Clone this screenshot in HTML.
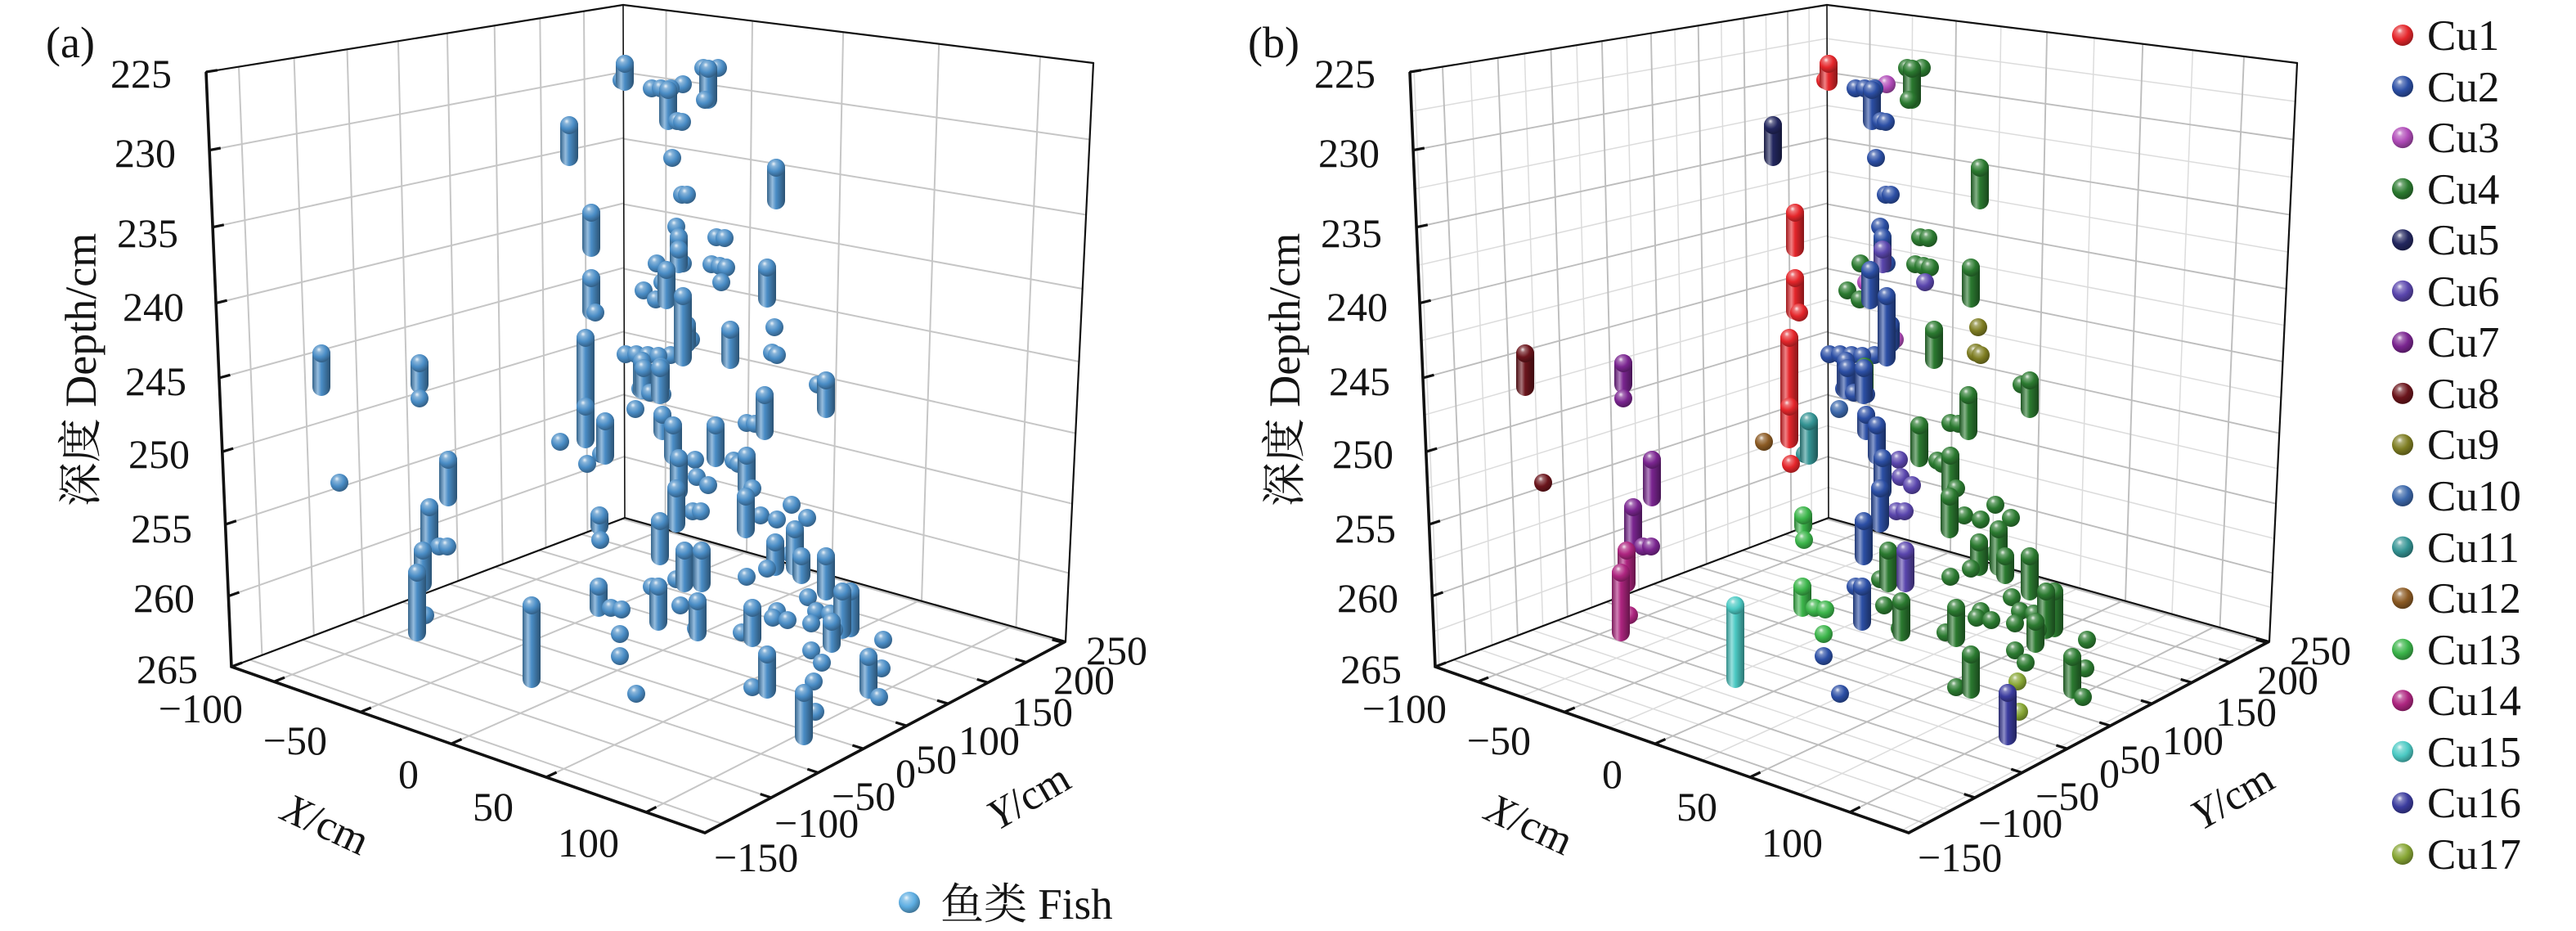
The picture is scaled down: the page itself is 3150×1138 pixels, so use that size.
<!DOCTYPE html>
<html><head><meta charset="utf-8"><style>
html,body{margin:0;padding:0;background:#fff;}
svg{display:block;}
text{font-family:"Liberation Serif","Noto Serif CJK SC",serif;fill:#141414;}
</style></head><body>
<svg id="s" xmlns="http://www.w3.org/2000/svg" width="3150" height="1138" viewBox="0 0 3150 1138">
<defs id="defs"></defs>
<rect width="3150" height="1138" fill="#fff"/>

<g id="PA">
 <g class="grid"></g>
 <g class="box" stroke="#111" fill="none" stroke-linecap="round">
  <line x1="252" y1="88" x2="762" y2="6" stroke-width="2.2"/>
  <line x1="762" y1="6" x2="1337" y2="77" stroke-width="2.2"/>
  <line x1="762" y1="6" x2="764" y2="633" stroke-width="1.6"/>
  <line x1="1337" y1="77" x2="1303" y2="784" stroke-width="2.2"/>
  <line x1="283" y1="815" x2="764" y2="633" stroke-width="2.2"/>
  <line x1="764" y1="633" x2="1303" y2="784" stroke-width="2.2"/>
 </g>
 <g class="pts"></g>
 <polyline points="252,88 283,815 862,1018 1303,784" fill="none" stroke="#111" stroke-width="3.6" stroke-linejoin="miter"/>
 <g class="ticks"></g>
 <g class="lab">
  <g font-size="50">
   <text x="210" y="107" text-anchor="end">225</text>
   <text x="215" y="204" text-anchor="end">230</text>
   <text x="218" y="302" text-anchor="end">235</text>
   <text x="225" y="392" text-anchor="end">240</text>
   <text x="228" y="483" text-anchor="end">245</text>
   <text x="232" y="572" text-anchor="end">250</text>
   <text x="235" y="663" text-anchor="end">255</text>
   <text x="238" y="748" text-anchor="end">260</text>
   <text x="242" y="835" text-anchor="end">265</text>
   <text x="297" y="883" text-anchor="end">−100</text>
   <text x="400" y="922" text-anchor="end">−50</text>
   <text x="512" y="963" text-anchor="end">0</text>
   <text x="628" y="1003" text-anchor="end">50</text>
   <text x="757" y="1047" text-anchor="end">100</text>
   <text x="873" y="1065">−150</text>
   <text x="947" y="1023">−100</text>
   <text x="1017" y="990">−50</text>
   <text x="1095" y="962">0</text>
   <text x="1120" y="945">50</text>
   <text x="1172" y="922">100</text>
   <text x="1237" y="887">150</text>
   <text x="1288" y="848">200</text>
   <text x="1328" y="812">250</text>
  </g>
  <text transform="translate(117,452) rotate(-90)" text-anchor="middle" font-size="54">深度 Depth/cm</text>
  <text transform="translate(398,1008) rotate(25)" text-anchor="middle" dominant-baseline="central" font-size="52"><tspan font-style="italic">X</tspan>/cm</text>
  <text transform="translate(1258,974) rotate(-30)" text-anchor="middle" dominant-baseline="central" font-size="52"><tspan font-style="italic">Y</tspan>/cm</text>
 </g>
</g>

<g id="PB" transform="translate(1472,0)">
 <g class="grid"></g>
 <g class="box" stroke="#111" fill="none" stroke-linecap="round">
  <line x1="252" y1="88" x2="762" y2="6" stroke-width="2.2"/>
  <line x1="762" y1="6" x2="1337" y2="77" stroke-width="2.2"/>
  <line x1="762" y1="6" x2="764" y2="633" stroke-width="1.6"/>
  <line x1="1337" y1="77" x2="1303" y2="784" stroke-width="2.2"/>
  <line x1="283" y1="815" x2="764" y2="633" stroke-width="2.2"/>
  <line x1="764" y1="633" x2="1303" y2="784" stroke-width="2.2"/>
 </g>
 <g class="pts"></g>
 <polyline points="252,88 283,815 862,1018 1303,784" fill="none" stroke="#111" stroke-width="3.6" stroke-linejoin="miter"/>
 <g class="ticks"></g>
 <g class="lab">
  <g font-size="50">
   <text x="210" y="107" text-anchor="end">225</text>
   <text x="215" y="204" text-anchor="end">230</text>
   <text x="218" y="302" text-anchor="end">235</text>
   <text x="225" y="392" text-anchor="end">240</text>
   <text x="228" y="483" text-anchor="end">245</text>
   <text x="232" y="572" text-anchor="end">250</text>
   <text x="235" y="663" text-anchor="end">255</text>
   <text x="238" y="748" text-anchor="end">260</text>
   <text x="242" y="835" text-anchor="end">265</text>
   <text x="297" y="883" text-anchor="end">−100</text>
   <text x="400" y="922" text-anchor="end">−50</text>
   <text x="512" y="963" text-anchor="end">0</text>
   <text x="628" y="1003" text-anchor="end">50</text>
   <text x="757" y="1047" text-anchor="end">100</text>
   <text x="873" y="1065">−150</text>
   <text x="947" y="1023">−100</text>
   <text x="1017" y="990">−50</text>
   <text x="1095" y="962">0</text>
   <text x="1120" y="945">50</text>
   <text x="1172" y="922">100</text>
   <text x="1237" y="887">150</text>
   <text x="1288" y="848">200</text>
   <text x="1328" y="812">250</text>
  </g>
  <text transform="translate(117,452) rotate(-90)" text-anchor="middle" font-size="54">深度 Depth/cm</text>
  <text transform="translate(398,1008) rotate(25)" text-anchor="middle" dominant-baseline="central" font-size="52"><tspan font-style="italic">X</tspan>/cm</text>
  <text transform="translate(1258,974) rotate(-30)" text-anchor="middle" dominant-baseline="central" font-size="52"><tspan font-style="italic">Y</tspan>/cm</text>
 </g>
</g>

<text x="56" y="70" font-size="54">(a)</text>
<text x="1526" y="70" font-size="54">(b)</text>

<circle cx="1112" cy="1103" r="13" fill="url(#rgfishL) #5eaee2"/>
<text x="1150" y="1123" font-size="53">鱼类 Fish</text>

<g id="legB" font-size="53">
 <text x="2968" y="61">Cu1</text>
 <text x="2968" y="124">Cu2</text>
 <text x="2968" y="186">Cu3</text>
 <text x="2968" y="249">Cu4</text>
 <text x="2968" y="311">Cu5</text>
 <text x="2968" y="374">Cu6</text>
 <text x="2968" y="436">Cu7</text>
 <text x="2968" y="499">Cu8</text>
 <text x="2968" y="561">Cu9</text>
 <text x="2968" y="624">Cu10</text>
 <text x="2968" y="687">Cu11</text>
 <text x="2968" y="749">Cu12</text>
 <text x="2968" y="812">Cu13</text>
 <text x="2968" y="874">Cu14</text>
 <text x="2968" y="937">Cu15</text>
 <text x="2968" y="999">Cu16</text>
 <text x="2968" y="1062">Cu17</text>
</g>
<g id="legBalls"></g>
</svg>
<script>
(function(){
const NS='http://www.w3.org/2000/svg';
function el(tag,a,p){const e=document.createElementNS(NS,tag);for(const k in a)e.setAttribute(k,a[k]);if(p)p.appendChild(e);return e;}
function homog(P){
  const x0=P[0][0],y0=P[0][1],x1=P[1][0],y1=P[1][1],x2=P[2][0],y2=P[2][1],x3=P[3][0],y3=P[3][1];
  const dx1=x1-x2,dx2=x3-x2,dx3=x0-x1+x2-x3,dy1=y1-y2,dy2=y3-y2,dy3=y0-y1+y2-y3;
  const den=dx1*dy2-dx2*dy1;
  const g=(dx3*dy2-dx2*dy3)/den,h=(dx1*dy3-dx3*dy1)/den;
  const a=x1-x0+g*x1,b=x3-x0+h*x3,c=x0,d=y1-y0+g*y1,e=y3-y0+h*y3,f=y0;
  return function(u,v){const w=g*u+h*v+1;return [(a*u+b*v+c)/w,(d*u+e*v+f)/w];};
}
function solve(fn,target){let lo=-0.5,hi=1.5;const inc=fn(1)>fn(0);for(let i=0;i<70;i++){const m=(lo+hi)/2;if((fn(m)<target)===inc)lo=m;else hi=m;}return (lo+hi)/2;}
function fit(fn,A,xa,B,xb){const ta=solve(fn,xa),tb=solve(fn,xb);return function(v){return ta+(v-A)*(tb-ta)/(B-A);};}
const L=homog([[252,88],[762,6],[764,633],[283,815]]);
const R=homog([[762,6],[1337,77],[1303,784],[764,633]]);
const F=homog([[283,815],[862,1018],[1303,784],[764,633]]);
const fLY=fit(t=>L(t,0)[0],-150,292,200,714);
const fRX=fit(t=>R(t,0)[0],-50,920,100,1272);
const fFX=fit(t=>F(t,0)[0],-100,335,100,790);
const fFY=fit(s=>F(1,s)[0],-100,943,200,1255);
const fZ=z=>(z-225)/40;
function ln(g,p,q,st,w){el('line',{x1:p[0].toFixed(1),y1:p[1].toFixed(1),x2:q[0].toFixed(1),y2:q[1].toFixed(1),stroke:st,'stroke-width':w},g);}
function range(a,b,s){const r=[];for(let v=a;v<=b+1e-9;v+=s)r.push(+v.toFixed(3));return r;}
function grid(g,vals,st,w){
  const ok=t=>t>0.006&&t<0.994;
  vals.y.forEach(Y=>{const t=fLY(Y);if(ok(t))ln(g,L(t,0),L(t,1),st,w);const s=fFY(Y);if(ok(s))ln(g,F(0,s),F(1,s),st,w);});
  vals.x.forEach(X=>{const t=fRX(X);if(ok(t))ln(g,R(t,0),R(t,1),st,w);const u=fFX(X);if(ok(u))ln(g,F(u,0),F(u,1),st,w);});
  vals.z.forEach(Z=>{const v=fZ(Z);if(ok(v)){ln(g,L(0,v),L(1,v),st,w);ln(g,R(0,v),R(1,v),st,w);}});
}
function tick(g,p,q,len){const dx=q[0]-p[0],dy=q[1]-p[1],d=Math.hypot(dx,dy);ln(g,p,[p[0]+dx/d*len,p[1]+dy/d*len],'#111',3.2);}
function ticks(g){
  range(225,265,5).forEach(Z=>{const v=fZ(Z);tick(g,L(0,v),L(0.05,v),14);});
  range(-100,100,50).forEach(X=>{const u=fFX(X);tick(g,F(u,0),F(u,0.05),14);});
  range(-100,250,50).forEach(Y=>{const s=fFY(Y);tick(g,F(1,s),F(0.95,s),14);});
}
const major={x:range(-100,100,50),y:range(-150,250,50),z:range(225,265,5)};
const minor={x:range(-125,125,50),y:range(-175,250,50),z:range(227.5,265,5)};
const gA=document.querySelector('#PA .grid'),gB=document.querySelector('#PB .grid');
grid(gA,major,'#c6c6c6',2);
grid(gB,minor,'#dcdcdc',1.5);
grid(gB,major,'#bdbdbd',1.9);
ticks(document.querySelector('#PA .ticks'));
ticks(document.querySelector('#PB .ticks'));

const defs=document.getElementById('defs');
function h2r(h){return [parseInt(h.slice(1,3),16),parseInt(h.slice(3,5),16),parseInt(h.slice(5,7),16)];}
function mix(c,t,k){return 'rgb('+c.map((v,i)=>Math.round(v+(t[i]-v)*k)).join(',')+')';}
const W=[255,255,255],K=[0,0,0];
function grads(id,hex){
  const c=h2r(hex);
  const rg=el('radialGradient',{id:'rg'+id,cx:'0.4',cy:'0.36',r:'0.7',fx:'0.36',fy:'0.28'},defs);
  [[0,mix(c,W,0.9)],[0.2,mix(c,W,0.35)],[0.55,hex],[1,mix(c,K,0.38)]].forEach(s=>el('stop',{offset:s[0],'stop-color':s[1]},rg));
  const lg=el('linearGradient',{id:'lg'+id,x1:'0',y1:'0',x2:'1',y2:'0'},defs);
  [[0,mix(c,K,0.3)],[0.3,mix(c,W,0.42)],[0.5,hex],[1,mix(c,K,0.42)]].forEach(s=>el('stop',{offset:s[0],'stop-color':s[1]},lg));
}
const PAL=['#e5262b','#2c4fa5','#b04bb8','#2b7a30','#23275f','#5a46ad','#7a2590','#6b151c','#7e7d22','#3c68ab','#349494','#8b5a23','#3bb54a','#ae2580','#4ccac4','#3b3c9e','#87a634'];
PAL.forEach((h,i)=>grads('c'+i,h));
grads('fish','#4a8dc6');
grads('fishL','#5eaee2');

const items=[
[764,78,100,0],[760,98,98,0],
[797,108,108,1],[808,108,108,1],[820,108,108,1],[835,103,103,2],
[817,110,148,1],[828,148,148,1],[834,149,149,1],
[866,84,122,3],[860,83,83,3],[878,83,83,3],[862,122,122,3],
[696,153,192,4],
[822,193,193,1],
[949,205,245,3],
[834,238,238,1],[840,238,238,1],
[723,260,303,0],
[827,277,277,1],[830,290,305,1],[830,305,323,5],[835,322,322,1],
[876,290,290,3],[886,291,291,3],
[803,322,322,3],
[870,323,323,3],[880,325,325,3],[888,327,327,3],[882,345,345,5],
[938,327,365,3],
[815,330,367,1],[810,345,345,2],[787,355,355,3],[802,366,366,3],
[723,340,380,0],[728,382,382,0],
[835,362,437,1],[840,397,420,1],
[947,400,400,8],
[893,403,440,3],
[944,431,431,8],[950,434,434,8],
[716,413,497,0],[716,497,537,0],
[765,433,433,1],[778,433,433,1],[792,434,434,1],[805,435,435,1],[820,434,434,1],[833,433,433,1],
[785,441,477,1],[808,448,480,3],[845,415,415,2],
[1010,465,500,3],[1000,470,470,3],
[777,500,500,9],
[393,432,473,7],
[513,444,470,6],[513,487,487,6],
[415,590,590,7],
[548,562,608,6],
[525,620,663,6],[537,668,668,6],[547,668,668,6],
[517,673,713,13],[510,700,773,13],[520,752,752,13],
[718,567,567,0],
[740,515,557,10],[735,555,555,10],
[685,540,540,11],
[787,450,477,1],[807,450,483,1],[783,475,475,1],[795,480,480,1],[810,482,482,1],
[810,507,527,1],[823,520,557,1],[830,560,600,1],[827,597,640,1],
[850,562,562,5],[852,583,583,5],[866,593,593,5],
[875,520,560,3],
[847,625,625,5],[857,625,625,5],
[807,637,680,1],
[733,630,643,12],[734,660,660,12],
[897,563,563,3],[903,567,567,3],
[913,557,597,3],[912,607,647,3],[920,597,597,3],
[930,630,630,3],[950,635,635,3],[968,617,617,3],[987,633,633,3],
[972,647,693,3],[948,663,693,3],[938,695,695,3],[967,677,677,3],[980,680,703,3],[1010,680,723,3],
[935,483,527,3],[913,517,517,3],[923,518,518,3],
[1030,723,770,3],[1040,723,768,3],
[837,673,713,3],[858,673,713,5],[827,708,708,3],
[805,717,760,1],[797,717,717,1],
[732,717,743,12],[747,743,743,12],[760,745,745,12],
[832,740,740,3],
[853,735,773,3],[851,768,768,3],
[913,705,705,3],
[920,743,780,3],[907,773,773,3],
[945,755,755,3],[963,758,758,3],[950,747,747,3],
[988,730,730,3],[998,747,747,3],[992,762,762,3],[1015,750,750,3],[1020,770,770,3],[1017,760,787,3],
[650,740,830,14],
[758,775,775,12],[758,802,802,1],[778,848,848,1],
[938,800,843,3],[920,840,840,3],
[992,795,795,3],[1005,810,810,3],[995,833,833,16],
[983,847,900,15],[997,870,870,16],
[1062,803,843,3],[1078,817,817,3],[1075,852,852,3],[1080,782,782,3]
];
const sorted=items.slice().sort((a,b)=>a[2]-b[2]);
function draw(g,it,id,r){
  const x=it[0],yt=it[1],yb=it[2];
  if(yb-yt<2){el('circle',{cx:x,cy:yt,r:r,fill:'url(#rg'+id+')'},g);}
  else{
    el('rect',{x:x-r,y:yt-r,width:2*r,height:yb-yt+2*r,rx:r,ry:r,fill:'url(#lg'+id+')'},g);
    el('circle',{cx:x,cy:yt,r:r,fill:'url(#rg'+id+')'},g);
  }
}
const pA=document.querySelector('#PA .pts'),pB=document.querySelector('#PB .pts');
sorted.forEach(it=>{draw(pA,it,'fish',11);draw(pB,it,'c'+it[3],11);});
const lb=document.getElementById('legBalls');
for(let i=0;i<17;i++){el('circle',{cx:2938,cy:(43+62.56*i).toFixed(1),r:13,fill:'url(#rgc'+i+')'},lb);}
})();
</script>
</body></html>
